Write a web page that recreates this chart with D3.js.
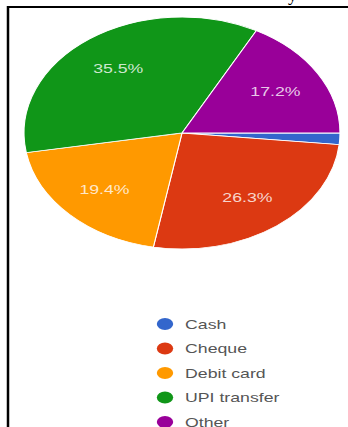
<!DOCTYPE html>
<html>
<head>
<meta charset="utf-8">
<script src="https://cdn.jsdelivr.net/npm/d3@7"></script>
<style>
  html, body { margin: 0; padding: 0; background: #fff; }
  svg { display: block; }
</style>
</head>
<body>
<svg width="348" height="427"></svg>
<script>
// data
var categories = ["Cash", "Cheque", "Debit card", "UPI transfer", "Other"];
var values = [1.6, 26.3, 19.4, 35.5, 17.2];
var colors = ["#3366cc", "#dc3912", "#ff9900", "#109618", "#990099"];

var svg = d3.select("svg");
var width = +svg.attr("width");
var height = +svg.attr("height");

// the screenshot is stretched sideways
var stretch = 1.362;
var radius = 116;
var center = {x: 182, y: 133};

// frame
svg.append("line")
    .attr("x1", 8).attr("x2", width)
    .attr("y1", 7).attr("y2", 7)
    .attr("stroke", "#000").attr("stroke-width", 2);
svg.append("line")
    .attr("x1", 8).attr("x2", 8)
    .attr("y1", 6).attr("y2", height)
    .attr("stroke", "#000").attr("stroke-width", 2.5);

// bit of text from the page above
svg.append("text")
    .attr("x", 288).attr("y", 1)
    .attr("font-family", "Liberation Serif, serif")
    .attr("font-size", 18)
    .text("y");

var data = categories.map(function(c, i){
    return {name: c, value: values[i], color: colors[i]};
});

var pie = d3.pie()
    .sort(null)
    .value(d => d.value)
    .startAngle(Math.PI / 2)
    .endAngle(Math.PI / 2 + 2 * Math.PI);

var arc = d3.arc().innerRadius(0).outerRadius(radius);
var labelArc = d3.arc().innerRadius(80).outerRadius(80);

var g = svg.append("g")
    .attr("transform", "translate(" + center.x + "," + center.y + ") scale(" + stretch + ",1)");

var arcs = pie(data);

g.selectAll("path")
    .data(arcs).enter()
    .append("path")
    .attr("d", arc)
    .attr("fill", d => d.data.color)
    .attr("stroke", "#fff")
    .attr("stroke-width", 0.8);

g.selectAll("text")
    .data(arcs.filter(d => d.data.value > 5)).enter()
    .append("text")
    .attr("transform", d => "translate(" + labelArc.centroid(d) + ")")
    .attr("text-anchor", "middle")
    .attr("dy", "0.35em")
    .attr("font-family", "Liberation Sans, Arial, sans-serif")
    .attr("font-size", 13)
    .attr("fill", "#fff")
    .attr("fill-opacity", 0.8)
    .text(d => d.data.value.toFixed(1) + "%");

// legend
var legendY = d3.scalePoint()
    .domain(categories)
    .range([324, 422]);

var legend = svg.selectAll("g.legend")
    .data(data).enter()
    .append("g")
    .attr("class", "legend")
    .attr("transform", d => "translate(165," + legendY(d.name) + ") scale(" + stretch + ",1)");

legend.append("circle")
    .attr("r", 6)
    .attr("fill", d => d.color);

legend.append("text")
    .attr("x", 14.7)
    .attr("dy", "0.35em")
    .attr("font-family", "Liberation Sans, Arial, sans-serif")
    .attr("font-size", 13)
    .attr("fill", "#555")
    .text(d => d.name);
</script>
</body>
</html>
